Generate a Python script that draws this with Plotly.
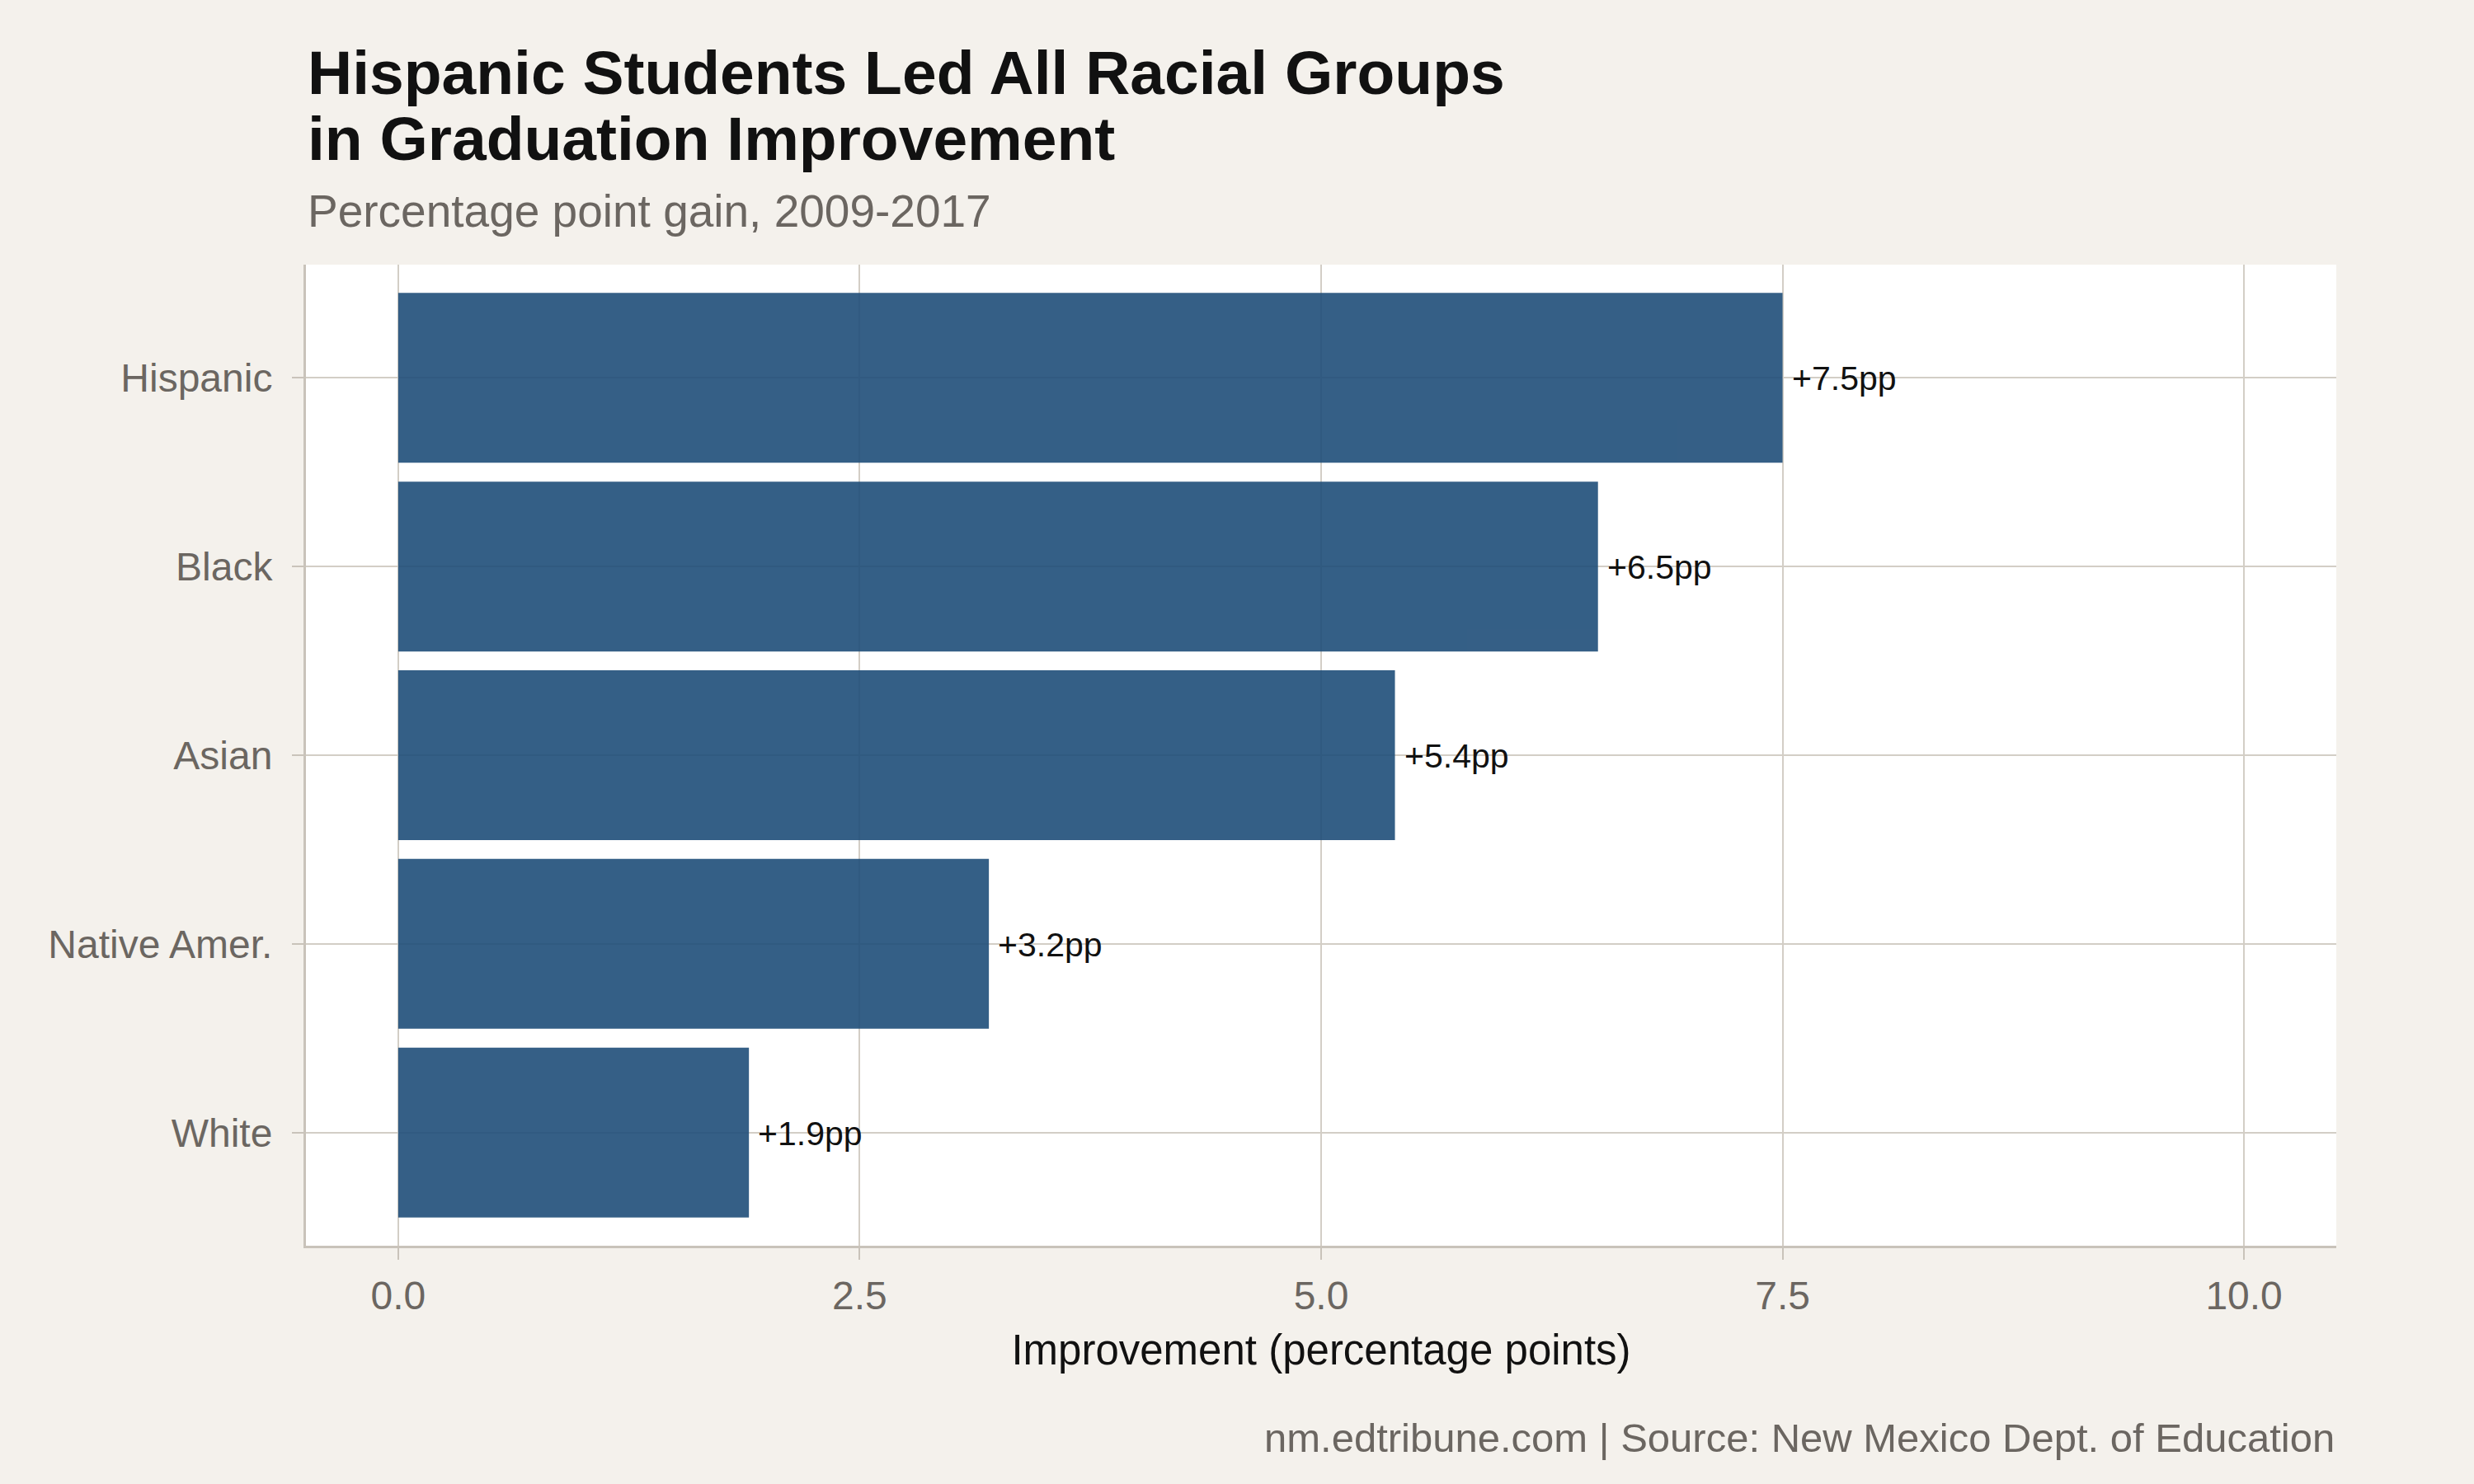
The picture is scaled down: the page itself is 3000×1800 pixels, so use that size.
import plotly.graph_objects as go

groups = ["Hispanic", "Black", "Asian", "Native Amer.", "White"]
gains = [7.5, 6.5, 5.4, 3.2, 1.9]
x_ticks = [0, 2.5, 5, 7.5, 10]
x_ticktext = ["0.0", "2.5", "5.0", "7.5", "10.0"]

title_line1 = "Hispanic Students Led All Racial Groups"
title_line2 = "in Graduation Improvement"
subtitle = "Percentage point gain, 2009-2017"
caption = "nm.edtribune.com | Source: New Mexico Dept. of Education"
x_title = "Improvement (percentage points)"

FONT = "Liberation Sans, Arial, Helvetica, sans-serif"
GRID = "#d3cec6"
AXIS = "#c9c3ba"
GRAY = "#6b6661"

# bottom-to-top order for the category axis
order = groups[::-1]

fig = go.Figure()
fig.add_trace(go.Bar(
    x=gains, y=groups, orientation="h",
    marker=dict(color="#1F4E79", line=dict(width=0)),
    opacity=0.9, width=0.9, hoverinfo="skip",
))

annotations = []
for g, v in zip(groups, gains):
    annotations.append(dict(
        x=v, y=g, xref="x", yref="y", text=f"+{v:.1f}pp",
        showarrow=False, xanchor="left", yanchor="middle", xshift=9,
        yshift=-1,
        font=dict(family=FONT, size=41, color="#111111"),
    ))

annotations += [
    dict(x=0, y=1.1955, xref="paper", yref="paper", text=f"<b>{title_line1}</b>",
         showarrow=False, xanchor="left", yanchor="middle",
         font=dict(family=FONT, size=75, color="#111111")),
    dict(x=0, y=1.1284, xref="paper", yref="paper", text=f"<b>{title_line2}</b>",
         showarrow=False, xanchor="left", yanchor="middle",
         font=dict(family=FONT, size=75, color="#111111")),
    dict(x=0, y=1.0545, xref="paper", yref="paper", text=subtitle,
         showarrow=False, xanchor="left", yanchor="middle",
         font=dict(family=FONT, size=55, color=GRAY)),
    dict(x=1, y=-0.1958, xref="paper", yref="paper", text=caption,
         showarrow=False, xanchor="right", yanchor="middle",
         font=dict(family=FONT, size=49, color=GRAY)),
]

fig.update_layout(
    width=3000, height=1800,
    margin=dict(l=371, r=167, t=321, b=289, pad=0),
    paper_bgcolor="#f4f1ec",
    plot_bgcolor="#ffffff",
    showlegend=False,
    annotations=annotations,
    bargap=0.1,
    xaxis=dict(
        range=[-0.5, 10.5], tickvals=x_ticks, ticktext=x_ticktext,
        showgrid=True, gridcolor=GRID, gridwidth=2,
        showline=True, linecolor=AXIS, linewidth=3,
        ticks="outside", ticklen=14, tickwidth=2, tickcolor=AXIS,
        zeroline=False,
        tickfont=dict(family=FONT, size=48, color=GRAY),
        ticklabelstandoff=2,
        title=dict(text=x_title, standoff=23,
                   font=dict(family=FONT, size=51, color="#111111")),
    ),
    yaxis=dict(
        categoryorder="array", categoryarray=order,
        range=[-0.6, 4.6],
        showgrid=True, gridcolor=GRID, gridwidth=2,
        showline=True, linecolor=AXIS, linewidth=3,
        ticks="outside", ticklen=14, tickwidth=2, tickcolor=AXIS,
        zeroline=False,
        tickfont=dict(family=FONT, size=48, color=GRAY),
        ticklabelstandoff=14,
    ),
)

fig.write_html("out.html")
